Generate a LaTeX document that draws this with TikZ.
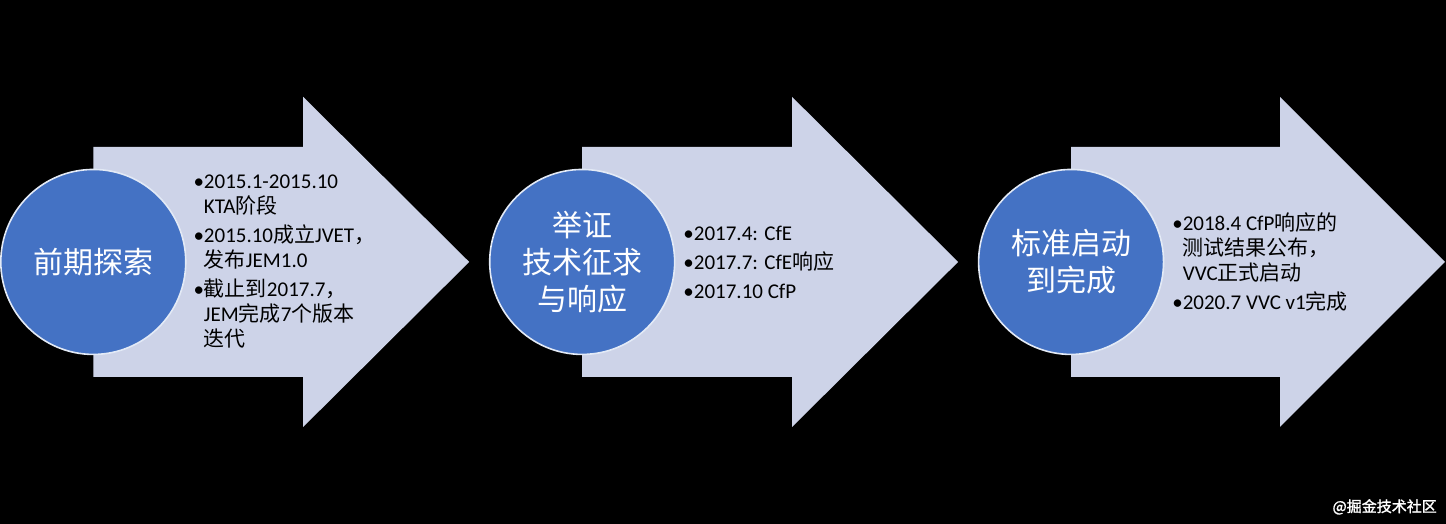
\documentclass[tikz,border=0pt]{standalone}
\usepackage{fontspec}
\setmainfont{Carlito}
\newfontfamily\cjk{Noto Sans CJK SC}
\newfontfamily\cjkmark[FakeBold=1.5]{Noto Sans CJK SC}
\definecolor{phaseblue}{HTML}{4472C4}
\definecolor{arrowgrey}{HTML}{CDD3E8}
\tikzstyle{bigarrow} = [fill=arrowgrey]
\tikzstyle{phase} = [circle, minimum size=138.75pt, fill=phaseblue, draw=white!85!phaseblue, line width=1.2pt, text=white, align=center, font=\cjk\fontsize{22.5}{27.75}\selectfont]
\tikzstyle{notes} = [anchor=west, align=left, inner sep=0pt, text=black, font=\fontsize{15.75}{18.75}\selectfont]
\tikzstyle{watermark} = [anchor=east, inner sep=0pt, text=white!85, font=\cjkmark\fontsize{11.25}{13}\selectfont]
\newcommand{\ind}{\phantom{•}}

\begin{document}
\begin{tikzpicture}[x=0.75pt, y=0.75pt]
        \fill [black] (0,0) rectangle (1446,524);
        % arrows
        \fill [bigarrow] (93,147) -- (303,147) -- (303,97) -- (469,262) -- (303,427) -- (303,377) -- (93,377) -- cycle;
        \fill [bigarrow] (582,147) -- (792,147) -- (792,97) -- (958,262) -- (792,427) -- (792,377) -- (582,377) -- cycle;
        \fill [bigarrow] (1071,147) -- (1280,147) -- (1280,97) -- (1445,262) -- (1280,427) -- (1280,377) -- (1071,377) -- cycle;
        % phases
        \node [phase] at (93,262) (early) {前期探索};
        \node [phase] at (582,262) (cfe) {举证\\技术征求\\与响应};
        \node [phase] at (1071,262) (vvc) {标准启动\\到完成};
        % notes
        \node [notes] at (193,262) (early-notes) {•2015.1-2015.10\\\ind KTA{\cjk 阶段}\\[3pt]
                •2015.10{\cjk 成立}JVET{\cjk ，}\\\ind{\cjk 发布}JEM1.0\\[3pt]
                •{\cjk 截止到}2017.7{\cjk ，}\\\ind JEM{\cjk 完成}7{\cjk 个版本}\\\ind{\cjk 迭代}};
        \node [notes] at (683,262) (cfe-notes) {•2017.4: CfE\\[3pt]•2017.7: CfE{\cjk 响应}\\[3pt]•2017.10 CfP};
        \node [notes] at (1172,262) (vvc-notes) {•2018.4 CfP{\cjk 响应的}\\\ind{\cjk 测试结果公布，}\\\ind VVC{\cjk 正式启动}\\[3pt]
                •2020.7 VVC v1{\cjk 完成}};
        \node [watermark] at (1437,17) (credit) {@掘金技术社区};
\end{tikzpicture}
\end{document}
